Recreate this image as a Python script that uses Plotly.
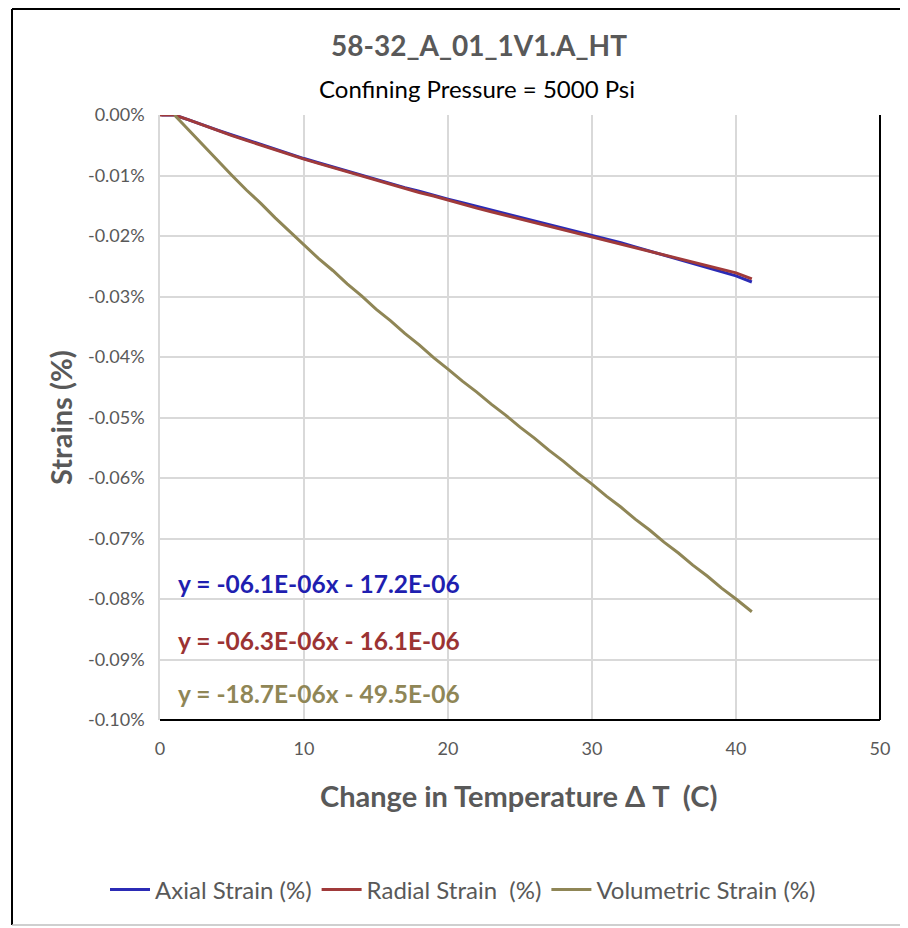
import plotly.graph_objects as go

# ---- data (strain in %) ----
axial_dt = [0.1, 1, 2, 3, 4, 5, 6, 7, 8, 9, 10, 11, 12, 13, 14, 15, 16, 17, 18, 19, 20,
            21, 22, 23, 24, 25, 26, 27, 28, 29, 30, 31, 32, 33, 34, 35, 36, 37, 38, 39, 40, 41.1]
axial_strain = [0.0, 0.0, -0.0008, -0.0017, -0.0025, -0.0033, -0.0041, -0.0049, -0.0057, -0.0065,
                -0.0072, -0.0079, -0.0086, -0.0093, -0.0100, -0.0107, -0.0113, -0.0120, -0.0126,
                -0.0133, -0.0139, -0.0145, -0.0151, -0.0157, -0.0163, -0.0169, -0.0175, -0.0181,
                -0.0186, -0.0192, -0.0198, -0.0204, -0.0211, -0.0218, -0.0225, -0.0231, -0.0238,
                -0.0245, -0.0252, -0.0259, -0.0266, -0.0276]

radial_dt = [0.0, 1, 2, 3, 4, 5, 6, 7, 8, 9, 10, 11, 12, 13, 14, 15, 16, 17, 18, 19, 20,
             21, 22, 23, 24, 25, 26, 27, 28, 29, 30, 31, 32, 33, 34, 35, 36, 37, 38, 39, 40, 41.1]
radial_strain = [0.0, 0.0, -0.0008, -0.0017, -0.0025, -0.0034, -0.0042, -0.0050, -0.0058, -0.0066,
                 -0.0073, -0.0080, -0.0087, -0.0094, -0.0101, -0.0108, -0.0114, -0.0121, -0.0128,
                 -0.0134, -0.0141, -0.0147, -0.0154, -0.0160, -0.0166, -0.0172, -0.0178, -0.0184,
                 -0.0190, -0.0196, -0.0202, -0.0208, -0.0214, -0.0220, -0.0226, -0.0232, -0.0237,
                 -0.0243, -0.0249, -0.0255, -0.0261, -0.0271]

vol_dt = [1, 2, 3, 4, 5, 6, 7, 8, 9, 10, 11, 12, 13, 14, 15, 16, 17, 18, 19, 20,
          21, 22, 23, 24, 25, 26, 27, 28, 29, 30, 31, 32, 33, 34, 35, 36, 37, 38, 39, 40, 41.1]
vol_strain = [0.0, -0.0025, -0.0051, -0.0075, -0.0100, -0.0124, -0.0146, -0.0170, -0.0192, -0.0215,
              -0.0237, -0.0257, -0.0279, -0.0299, -0.0321, -0.0340, -0.0361, -0.0380, -0.0401,
              -0.0420, -0.0440, -0.0458, -0.0478, -0.0496, -0.0516, -0.0534, -0.0554, -0.0572,
              -0.0592, -0.0610, -0.0630, -0.0648, -0.0668, -0.0686, -0.0706, -0.0724, -0.0744,
              -0.0762, -0.0782, -0.0800, -0.0821]

series_names = ["Axial Strain (%)", "Radial Strain  (%)", "Volumetric Strain (%)"]
equations = ["y = -06.1E-06x - 17.2E-06", "y = -06.3E-06x - 16.1E-06", "y = -18.7E-06x - 49.5E-06"]

x_tickvals = [0, 10, 20, 30, 40, 50]
y_tickvals = [0, -0.01, -0.02, -0.03, -0.04, -0.05, -0.06, -0.07, -0.08, -0.09, -0.10]
y_ticktext = ["0.00%", "-0.01%", "-0.02%", "-0.03%", "-0.04%", "-0.05%", "-0.06%", "-0.07%",
              "-0.08%", "-0.09%", "-0.10%"]

title_text = "58-32_A_01_1V1.A_HT"
subtitle_text = "Confining Pressure = 5000 Psi"
x_title = "Change in Temperature \u0394 T  (C)"
y_title = "Strains (%)"

# ---- styling ----
FONT = "Lato"
GREY = "#595959"
colors = ["#2B2BB5", "#A03A3A", "#8F8656"]
eq_colors = ["#1F1FB0", "#9B3333", "#8F8656"]

OFF = 8  # page body margin in the browser
W, H = 908 - OFF, 928 - OFF
L, T = 160 - OFF, 115 - OFF
PW, PH = 720, 605
R, B = W - L - PW, H - T - PH


def px(X):  # screen pixel x -> paper
    return (X - 160) / PW


def py(Y):  # screen pixel y -> paper
    return (720 - Y) / PH


fig = go.Figure()
for xs, ys, name, c in [(axial_dt, axial_strain, series_names[0], colors[0]),
                        (radial_dt, radial_strain, series_names[1], colors[1]),
                        (vol_dt, vol_strain, series_names[2], colors[2])]:
    fig.add_trace(go.Scatter(x=xs, y=ys, mode="lines", name=name,
                             line=dict(color=c, width=3)))

annotations = [
    dict(text=f"<b>{title_text}</b>", x=px(479), y=py(45), xref="paper", yref="paper",
         showarrow=False, font=dict(family=FONT, size=28, color=GREY), xanchor="center", yanchor="middle"),
    dict(text=subtitle_text, x=px(477), y=py(88), xref="paper", yref="paper",
         showarrow=False, font=dict(family=FONT, size=24, color="#000000"), xanchor="center", yanchor="middle"),
    dict(text=f"<b>{x_title}</b>", x=px(518), y=py(795), xref="paper", yref="paper",
         showarrow=False, font=dict(family=FONT, size=29, color=GREY), xanchor="center", yanchor="middle"),
    dict(text=f"<b>{y_title}</b>", x=px(60), y=py(418), xref="paper", yref="paper", textangle=-90,
         showarrow=False, font=dict(family=FONT, size=29, color=GREY), xanchor="center", yanchor="middle"),
]
for eq, c, yy in zip(equations, eq_colors, [583, 640, 693]):
    annotations.append(dict(text=f"<b>{eq}</b>", x=px(176), y=py(yy), xref="paper", yref="paper",
                            showarrow=False, font=dict(family=FONT, size=24.5, color=c),
                            xanchor="left", yanchor="middle"))

shapes = [
    dict(type="line", xref="paper", yref="paper", x0=1, x1=1, y0=0, y1=1,
         line=dict(color="black", width=2)),
    dict(type="line", xref="paper", yref="paper", x0=0, x1=1, y0=0, y1=0,
         line=dict(color="black", width=2)),
    dict(type="line", xref="paper", yref="paper", x0=px(12), x1=px(906), y0=py(9), y1=py(9),
         line=dict(color="black", width=2)),
    dict(type="line", xref="paper", yref="paper", x0=px(12), x1=px(12), y0=py(9), y1=py(925),
         line=dict(color="black", width=2)),
    dict(type="line", xref="paper", yref="paper", x0=px(12), x1=px(906), y0=py(925), y1=py(925),
         line=dict(color="#BFBFBF", width=1.5)),
]

fig.update_layout(
    width=W, height=H,
    margin=dict(l=L, r=R, t=T, b=B, autoexpand=False),
    paper_bgcolor="white", plot_bgcolor="white",
    showlegend=True,
    legend=dict(orientation="h", x=px(463), y=py(890), xanchor="center", yanchor="middle",
                font=dict(family=FONT, size=24, color=GREY), itemwidth=40, tracegroupgap=0,
                bgcolor="rgba(0,0,0,0)"),
    annotations=annotations,
    shapes=shapes,
    font=dict(family=FONT, color=GREY),
)
fig.update_xaxes(range=[0, 50], tickvals=x_tickvals, showgrid=True, gridcolor="#D9D9D9", gridwidth=1.5,
                 zeroline=False, showline=False, ticks="", ticklabelstandoff=16,
                 tickfont=dict(family=FONT, size=18, color=GREY))
fig.update_yaxes(range=[-0.10, 0], tickvals=y_tickvals, ticktext=y_ticktext, showgrid=True,
                 gridcolor="#D9D9D9", gridwidth=1.5, zeroline=False, showline=True,
                 linecolor="#D9D9D9", linewidth=1.5, ticks="", ticklabelstandoff=10,
                 tickfont=dict(family=FONT, size=18, color=GREY))

fig.write_html("out.html")
